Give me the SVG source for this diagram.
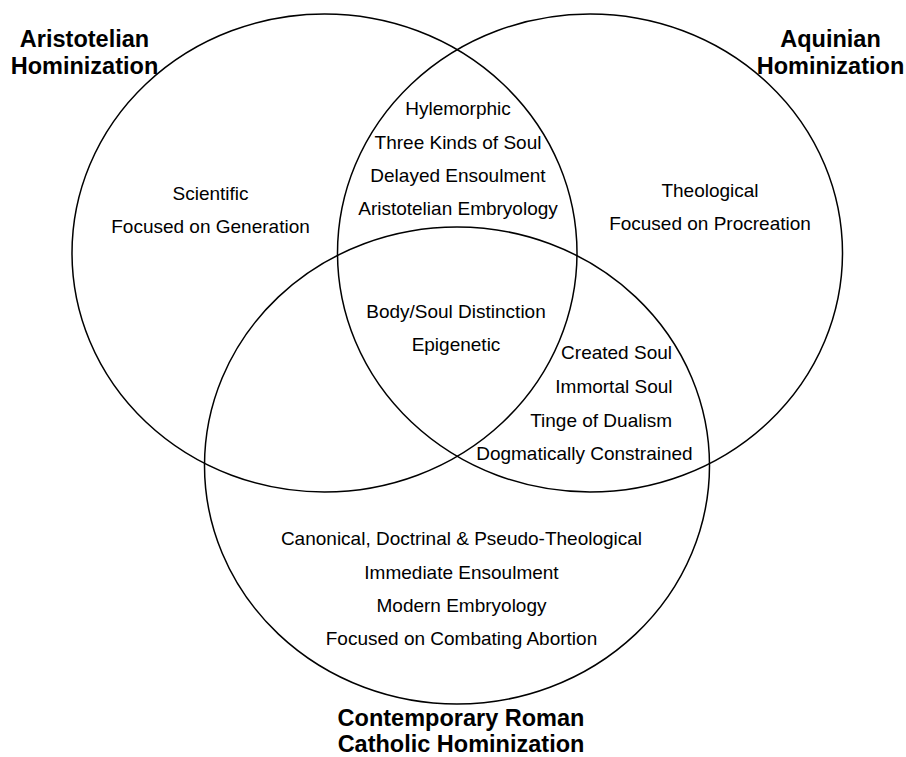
<svg xmlns="http://www.w3.org/2000/svg" width="906" height="757" viewBox="0 0 906 757">
<style>
.c{fill:none;stroke:#000;stroke-width:1.5}
.t{font-family:"Liberation Sans",Arial,sans-serif;font-size:19px;fill:#000;text-anchor:middle}
.e{text-anchor:end}
.h{font-family:"Liberation Sans",Arial,sans-serif;font-size:23.5px;font-weight:bold;fill:#000;text-anchor:middle}
</style>
<rect width="906" height="757" fill="#fff"/>
<g id="aristotelian">
<ellipse class="c" cx="324.5" cy="253" rx="252.5" ry="239"/>
<text class="h" x="84.5" y="46.5">Aristotelian</text>
<text class="h" x="84.5" y="74">Hominization</text>
<text class="t" x="210.5" y="200">Scientific</text>
<text class="t" x="210.5" y="233">Focused on Generation</text>
</g>
<g id="aquinian">
<ellipse class="c" cx="590" cy="253" rx="252.5" ry="239"/>
<text class="h" x="830.5" y="46.5">Aquinian</text>
<text class="h" x="830.5" y="74">Hominization</text>
<text class="t" x="710" y="197">Theological</text>
<text class="t" x="710" y="230">Focused on Procreation</text>
</g>
<g id="contemporary">
<ellipse class="c" cx="457" cy="465.5" rx="252.5" ry="238.5"/>
<text class="h" x="461" y="725.5">Contemporary Roman</text>
<text class="h" x="461" y="751.8">Catholic Hominization</text>
<text class="t" x="461.5" y="545.3">Canonical, Doctrinal &amp; Pseudo-Theological</text>
<text class="t" x="461.5" y="578.7">Immediate Ensoulment</text>
<text class="t" x="461.5" y="611.7">Modern Embryology</text>
<text class="t" x="461.5" y="645">Focused on Combating Abortion</text>
</g>
<g id="aristotelian-aquinian">
<text class="t" x="458" y="115">Hylemorphic</text>
<text class="t" x="458" y="148.5">Three Kinds of Soul</text>
<text class="t" x="458" y="182">Delayed Ensoulment</text>
<text class="t" x="458" y="215">Aristotelian Embryology</text>
</g>
<g id="all-three">
<text class="t" x="456" y="317.5">Body/Soul Distinction</text>
<text class="t" x="456" y="351">Epigenetic</text>
</g>
<g id="aquinian-contemporary">
<text class="t e" x="672" y="359">Created Soul</text>
<text class="t e" x="672.5" y="392.7">Immortal Soul</text>
<text class="t e" x="672" y="426.7">Tinge of Dualism</text>
<text class="t e" x="692.7" y="460">Dogmatically Constrained</text>
</g>
<g id="connectors"/>
</svg>
